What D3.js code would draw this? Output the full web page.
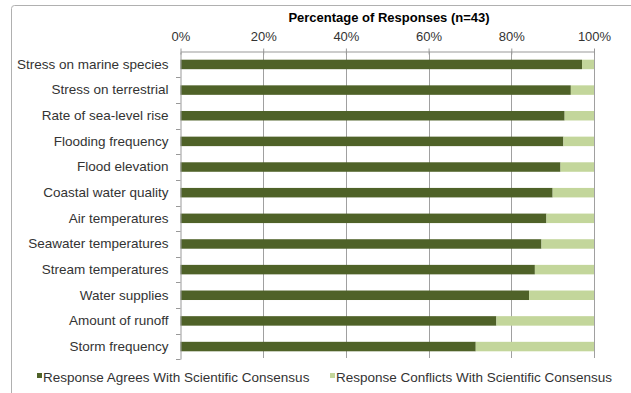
<!DOCTYPE html>
<html><head><meta charset="utf-8">
<script src="https://cdn.jsdelivr.net/npm/d3@7"></script>
<style>
body{margin:0;background:#fff;}
text{font-family:"Liberation Sans",Arial,sans-serif;}
</style></head>
<body>
<svg id="chart" width="631" height="393"></svg>
<script>
const categories = ["Stress on marine species","Stress on terrestrial","Rate of sea-level rise","Flooding frequency","Flood elevation","Coastal water quality","Air temperatures","Seawater temperatures","Stream temperatures","Water supplies","Amount of runoff","Storm frequency"];
const agrees = [97.1,94.4,92.9,92.6,91.9,90.0,88.5,87.3,85.7,84.3,76.4,71.4];
const conflicts = agrees.map(v => 100 - v);
const seriesNames = ["Response Agrees With Scientific Consensus","Response Conflicts With Scientific Consensus"];
const tickValues = [0,20,40,60,80,100];
const title = "Percentage of Responses (n=43)";
const colors = ["#4f6228","#c3d69b"];

const svg = d3.select("#chart");
// frame
svg.append("rect").attr("x",11.5).attr("y",5.5).attr("width",640).attr("height",400).attr("rx",3)
  .attr("fill","none").attr("stroke","#b0b0b0").attr("stroke-width",1);

const axisY = 51.5;
const x = d3.scaleLinear().domain([0,100]).range([180.5,594]);
const y = d3.scaleBand().domain(categories).range([52,359]).paddingInner(0.63).paddingOuter(0.3);

// gridlines
svg.append("g").selectAll("line").data(tickValues.slice(1)).join("line")
  .attr("x1",d=>Math.round(x(d))+0.5).attr("x2",d=>Math.round(x(d))+0.5)
  .attr("y1",axisY).attr("y2",358).attr("stroke","#a0a0a0").attr("stroke-width",1);

// bars
const data = categories.map((c,i)=>({c, vals:[agrees[i],conflicts[i]]}));
const stack = d3.stack().keys([0,1]).value((d,k)=>d.vals[k]);
const stacked = stack(data);
svg.append("g").selectAll("g").data(stacked).join("g").attr("fill",(d,i)=>colors[i])
  .selectAll("rect").data(d=>d).join("rect")
  .attr("x",d=>x(d[0])).attr("width",d=>x(d[1])-x(d[0]))
  .attr("y",(d)=>y(d.data.c)).attr("height",y.bandwidth());

// top axis
const xAxis = d3.axisTop(x).tickValues(tickValues).tickFormat(d=>d+"%").tickSize(3).tickSizeOuter(0);
const gx = svg.append("g").attr("transform",`translate(0,${axisY})`).call(xAxis);
gx.select(".domain").attr("stroke","#999");
gx.selectAll(".tick line").attr("stroke","#999").attr("y1",3);
gx.selectAll(".tick text").attr("font-size",13).attr("fill","#333").attr("dy","-0.35em")
  .attr("font-family","Liberation Sans, Arial, sans-serif");

// left axis
const yAxis = d3.axisLeft(y).tickSize(0).tickPadding(12);
const gy = svg.append("g").attr("transform","translate(180.5,0)").call(yAxis);
gy.select(".domain").attr("stroke","#999");
gy.selectAll(".tick text").attr("font-size",13.5).attr("fill","#333")
  .attr("font-family","Liberation Sans, Arial, sans-serif");
// minor ticks between categories
const bounds = categories.map((c,i)=> i===0 ? null : y(c) - y.step()*y.paddingInner()/2).filter(v=>v!==null);
bounds.push(y(categories[categories.length-1]) + y.bandwidth() + y.step()*y.paddingInner()/2);
svg.append("g").selectAll("line").data(bounds).join("line")
  .attr("x1",176).attr("x2",180.5).attr("y1",d=>Math.round(d)+0.5).attr("y2",d=>Math.round(d)+0.5)
  .attr("stroke","#999");

// title
svg.append("text").attr("x",389).attr("y",22).attr("text-anchor","middle")
  .attr("font-size",13).attr("font-weight","bold").attr("fill","#000").text(title);

// legend
const legX = [37,330];
const leg = svg.append("g").selectAll("g").data(seriesNames).join("g")
  .attr("transform",(d,i)=>`translate(${legX[i]},382)`);
leg.append("rect").attr("x",0).attr("y",-9).attr("width",5).attr("height",5).attr("fill",(d,i)=>colors[i]);
leg.append("text").attr("x",6).attr("y",0).attr("font-size",13.5).attr("fill","#333").text(d=>d);
</script>
</body></html>
